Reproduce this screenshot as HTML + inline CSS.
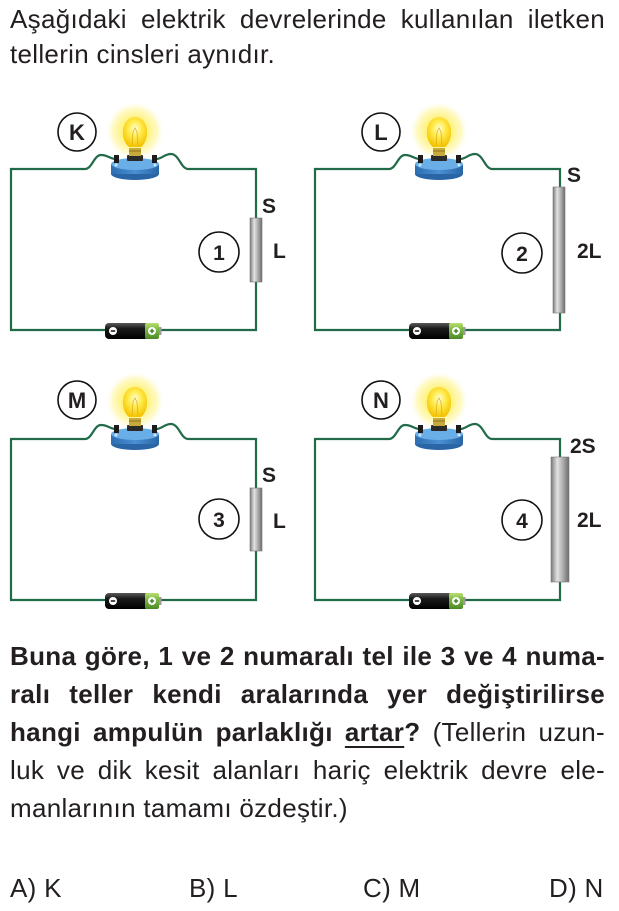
<!DOCTYPE html>
<html>
<head>
<meta charset="utf-8">
<style>
  html,body{margin:0;padding:0;background:#fff;}
  body{width:619px;height:911px;position:relative;overflow:hidden;}
  .t{position:absolute;left:10px;width:595px;font-family:"Liberation Sans",Arial,sans-serif;font-size:26px;line-height:30px;letter-spacing:0.3px;color:#231f20;text-align:justify;text-align-last:justify;}
  .l{text-align:left;text-align-last:left;}
  .b{font-weight:bold;}
  .u{text-decoration:underline;text-decoration-thickness:2px;text-underline-offset:5px;}
  .opt{position:absolute;top:873px;font-family:"Liberation Sans",Arial,sans-serif;font-size:26px;line-height:30px;letter-spacing:0.3px;color:#231f20;white-space:nowrap;}
  svg{position:absolute;left:0;top:0;}
</style>
</head>
<body>
<svg width="619" height="911" viewBox="0 0 619 911">
  <defs>
    <radialGradient id="glow" cx="50%" cy="50%" r="50%">
      <stop offset="0" stop-color="#fffbe0" stop-opacity="1"/>
      <stop offset="0.45" stop-color="#fff27a" stop-opacity="0.95"/>
      <stop offset="0.75" stop-color="#fff59a" stop-opacity="0.55"/>
      <stop offset="1" stop-color="#ffffff" stop-opacity="0"/>
    </radialGradient>
    <radialGradient id="glass" cx="50%" cy="40%" r="60%">
      <stop offset="0" stop-color="#fffde8"/>
      <stop offset="0.4" stop-color="#ffee55"/>
      <stop offset="1" stop-color="#f5c400"/>
    </radialGradient>
    <linearGradient id="batBlack" x1="0" y1="0" x2="0" y2="1">
      <stop offset="0" stop-color="#5a5a5a"/>
      <stop offset="0.35" stop-color="#1a1a1a"/>
      <stop offset="1" stop-color="#000"/>
    </linearGradient>
    <linearGradient id="batGreen" x1="0" y1="0" x2="0" y2="1">
      <stop offset="0" stop-color="#b9e070"/>
      <stop offset="0.4" stop-color="#7cb843"/>
      <stop offset="1" stop-color="#4d8a26"/>
    </linearGradient>
    <linearGradient id="res" x1="0" y1="0" x2="1" y2="0">
      <stop offset="0" stop-color="#7a7a7a"/>
      <stop offset="0.35" stop-color="#e2e2e2"/>
      <stop offset="0.6" stop-color="#b8b8b8"/>
      <stop offset="1" stop-color="#6c6c6c"/>
    </linearGradient>
    <linearGradient id="baseSide" x1="0" y1="0" x2="1" y2="0">
      <stop offset="0" stop-color="#2d6db0"/>
      <stop offset="0.5" stop-color="#4a90d4"/>
      <stop offset="1" stop-color="#2a66a6"/>
    </linearGradient>
    <g id="ckt">
      <path d="M116 159 C110 159 108 155 101 155 C94 155 92 169 85 169 H11 V330 H105 M160 330 H256 V169 H188 C181 169 179 154 171 154 C164 154 162 159 156 159" fill="none" stroke="#226b49" stroke-width="2.2"/>
      <!-- glow -->
      <circle cx="135" cy="131" r="30" fill="url(#glow)"/>
      <!-- base -->
      <ellipse cx="135" cy="174" rx="24" ry="6" fill="#2a66a6"/>
      <rect x="111" y="164" width="48" height="10" fill="url(#baseSide)"/>
      <ellipse cx="135" cy="164" rx="24" ry="6" fill="#6aaee8"/>
      <!-- terminals -->
      <rect x="114" y="155" width="5" height="8" fill="#1b1b1b"/>
      <rect x="152" y="155" width="5" height="8" fill="#1b1b1b"/>
      <circle cx="116" cy="165" r="1.5" fill="#cfe6fa"/>
      <circle cx="155" cy="165" r="1.5" fill="#cfe6fa"/>
      <!-- socket and screw -->
      <rect x="127" y="155" width="16" height="6" rx="1" fill="#2a2a2a"/>
      <rect x="129" y="148" width="12" height="8" fill="#c8a93c"/>
      <line x1="129" y1="151" x2="141" y2="151" stroke="#8c7420" stroke-width="1"/>
      <!-- glass -->
      <path d="M129 147 C120 140 120 118 135 117 C150 118 150 140 141 147 Z" fill="url(#glass)"/>
      <path d="M132 146 L133 132 L135 128 L137 132 L138 146" fill="none" stroke="#e0b020" stroke-width="0.8"/>
      <!-- battery -->
      <rect x="105" y="323" width="44" height="16" rx="4" fill="url(#batBlack)"/>
      <rect x="145" y="323" width="14" height="16" rx="2" fill="url(#batGreen)"/>
      <rect x="159" y="327" width="2.5" height="8" fill="#9a9a9a"/>
      <circle cx="113" cy="331" r="4" fill="#fff"/>
      <line x1="110.8" y1="331" x2="115.2" y2="331" stroke="#000" stroke-width="1.4"/>
      <circle cx="152" cy="331" r="4" fill="#fff"/>
      <line x1="149.8" y1="331" x2="154.2" y2="331" stroke="#3f7a20" stroke-width="1.4"/>
      <line x1="152" y1="328.8" x2="152" y2="333.2" stroke="#3f7a20" stroke-width="1.4"/>
    </g>
  </defs>

  <use href="#ckt"/>
  <use href="#ckt" transform="translate(304,0)"/>
  <use href="#ckt" transform="translate(0,270)"/>
  <use href="#ckt" transform="translate(304,270)"/>

  <!-- resistors -->
  <rect x="250" y="218" width="12" height="64" fill="url(#res)" stroke="#777" stroke-width="0.6"/>
  <rect x="553" y="187" width="12" height="126" fill="url(#res)" stroke="#777" stroke-width="0.6"/>
  <rect x="250" y="488" width="12" height="63" fill="url(#res)" stroke="#777" stroke-width="0.6"/>
  <rect x="551" y="457" width="18" height="125" fill="url(#res)" stroke="#777" stroke-width="0.6"/>

  <g font-family="Liberation Sans, Arial, sans-serif" font-weight="bold" fill="#231f20">
    <!-- letter circles -->
    <circle cx="77" cy="132" r="19" fill="#fff" stroke="#111" stroke-width="1.6"/>
    <text x="77" y="140" font-size="22" text-anchor="middle">K</text>
    <circle cx="381" cy="132" r="19" fill="#fff" stroke="#111" stroke-width="1.6"/>
    <text x="381" y="140" font-size="22" text-anchor="middle">L</text>
    <circle cx="77" cy="400" r="19" fill="#fff" stroke="#111" stroke-width="1.6"/>
    <text x="77" y="408" font-size="22" text-anchor="middle">M</text>
    <circle cx="381" cy="400" r="19" fill="#fff" stroke="#111" stroke-width="1.6"/>
    <text x="381" y="408" font-size="22" text-anchor="middle">N</text>

    <!-- number circles -->
    <circle cx="219" cy="252" r="20" fill="#fff" stroke="#111" stroke-width="1.6"/>
    <text x="219" y="260" font-size="21" text-anchor="middle">1</text>
    <circle cx="522" cy="253" r="20" fill="#fff" stroke="#111" stroke-width="1.6"/>
    <text x="522" y="261" font-size="21" text-anchor="middle">2</text>
    <circle cx="219" cy="519" r="20" fill="#fff" stroke="#111" stroke-width="1.6"/>
    <text x="219" y="527" font-size="21" text-anchor="middle">3</text>
    <circle cx="522" cy="520" r="20" fill="#fff" stroke="#111" stroke-width="1.6"/>
    <text x="522" y="528" font-size="21" text-anchor="middle">4</text>

    <!-- dimension labels -->
    <text x="262" y="213" font-size="21">S</text>
    <text x="273" y="258" font-size="21">L</text>
    <text x="567" y="182" font-size="21">S</text>
    <text x="577" y="258" font-size="21">2L</text>
    <text x="262" y="482" font-size="21">S</text>
    <text x="273" y="528" font-size="21">L</text>
    <text x="570" y="453" font-size="21">2S</text>
    <text x="577" y="527" font-size="21">2L</text>
  </g>
</svg>

<div class="t" style="top:4px;">Aşağıdaki elektrik devrelerinde kullanılan iletken</div>
<div class="t l" style="top:39px;">tellerin cinsleri aynıdır.</div>

<div class="t b" style="top:641px;">Buna göre, 1 ve 2 numaralı tel ile 3 ve 4 numa-</div>
<div class="t b" style="top:679px;">ralı teller kendi aralarında yer değiştirilirse</div>
<div class="t" style="top:717px;"><span class="b">hangi ampulün parlaklığı <span class="u">artar</span>?</span> (Tellerin uzun-</div>
<div class="t" style="top:755px;">luk ve dik kesit alanları hariç elektrik devre ele-</div>
<div class="t l" style="top:793px;">manlarının tamamı özdeştir.)</div>

<div class="opt" style="left:10px;">A) K</div>
<div class="opt" style="left:189px;">B) L</div>
<div class="opt" style="left:363px;">C) M</div>
<div class="opt" style="left:549px;">D) N</div>
</body>
</html>
